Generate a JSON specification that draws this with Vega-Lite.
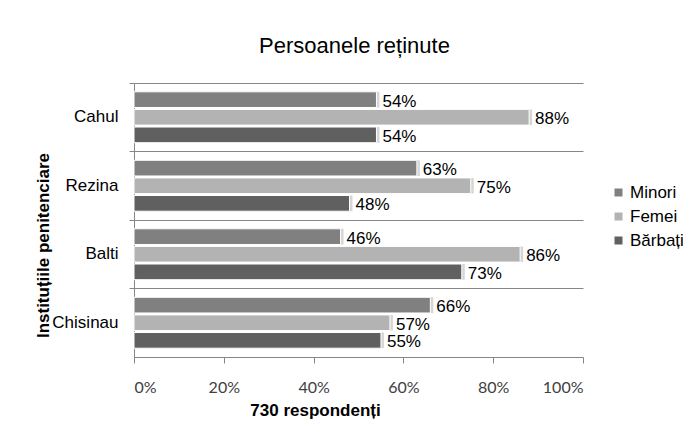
{
  "$schema": "https://vega.github.io/schema/vega-lite/v6.json",
  "autosize": "none",
  "padding": {"left": 134, "top": 83, "right": 100, "bottom": 78},
  "width": 449,
  "height": 274,
  "background": "white",
  "title": {
    "text": "Persoanele reținute",
    "font": "Liberation Sans",
    "fontSize": 22,
    "fontWeight": "normal",
    "color": "#000000",
    "anchor": "middle",
    "dx": -4,
    "offset": 25
  },
  "data": {
    "values": [
      {"institutie": "Cahul", "categorie": "Minori", "pondere": 0.54},
      {"institutie": "Cahul", "categorie": "Femei", "pondere": 0.88},
      {"institutie": "Cahul", "categorie": "Bărbați", "pondere": 0.54},
      {"institutie": "Rezina", "categorie": "Minori", "pondere": 0.63},
      {"institutie": "Rezina", "categorie": "Femei", "pondere": 0.75},
      {"institutie": "Rezina", "categorie": "Bărbați", "pondere": 0.48},
      {"institutie": "Balti", "categorie": "Minori", "pondere": 0.46},
      {"institutie": "Balti", "categorie": "Femei", "pondere": 0.86},
      {"institutie": "Balti", "categorie": "Bărbați", "pondere": 0.73},
      {"institutie": "Chisinau", "categorie": "Minori", "pondere": 0.66},
      {"institutie": "Chisinau", "categorie": "Femei", "pondere": 0.57},
      {"institutie": "Chisinau", "categorie": "Bărbați", "pondere": 0.55}
    ]
  },
  "encoding": {
    "y": {
      "field": "institutie",
      "type": "nominal",
      "sort": ["Cahul", "Rezina", "Balti", "Chisinau"],
      "scale": {"paddingInner": 0, "paddingOuter": 0},
      "axis": {
        "title": "Instituțiile penitenciare",
        "titleFont": "Liberation Sans",
        "titleFontSize": 17,
        "titleFontWeight": "bold",
        "titleColor": "#000000",
        "titleAngle": -90,
        "titleAlign": "center",
        "titleBaseline": "middle",
        "titleX": -91,
        "titleY": 162,
        "labelFont": "Liberation Sans",
        "labelFontSize": 17,
        "labelColor": "#000000",
        "labelPadding": 11,
        "bandPosition": 0,
        "tickSize": 5,
        "tickColor": "#868686",
        "domainColor": "#868686",
        "grid": true,
        "gridColor": "#868686",
        "gridWidth": 1
      }
    },
    "yOffset": {
      "field": "categorie",
      "type": "nominal",
      "sort": ["Minori", "Femei", "Bărbați"],
      "scale": {"paddingInner": 0.11, "paddingOuter": 0.5}
    },
    "x": {
      "field": "pondere",
      "type": "quantitative",
      "scale": {"domain": [0, 1], "nice": false},
      "axis": {
        "title": "730 respondenți",
        "titleFont": "Liberation Sans",
        "titleFontSize": 17,
        "titleFontWeight": "bold",
        "titleColor": "#000000",
        "titleAnchor": "start",
        "titleAlign": "center",
        "titleBaseline": "middle",
        "titleX": 181,
        "titleY": 53,
        "format": ".0%",
        "values": [0, 0.2, 0.4, 0.6, 0.8, 1],
        "labelFont": "Lato",
        "labelFontSize": 16,
        "labelColor": "#404040",
        "labelPadding": 16,
        "tickSize": 6,
        "tickColor": "#868686",
        "domainColor": "#868686",
        "grid": false
      }
    }
  },
  "layer": [
    {
      "mark": {"type": "bar", "color": "#d6d6d6", "xOffset": 3, "yOffset": 3},
      "encoding": {}
    },
    {
      "mark": {"type": "bar", "stroke": "#ffffff", "strokeWidth": 1},
      "encoding": {
        "color": {
          "field": "categorie",
          "type": "nominal",
          "sort": ["Minori", "Femei", "Bărbați"],
          "scale": {
            "domain": ["Minori", "Femei", "Bărbați"],
            "range": ["#808080", "#b3b3b3", "#606060"]
          },
          "legend": {
            "title": null,
            "orient": "none",
            "legendX": 476,
            "legendY": 101,
            "symbolType": "square",
            "symbolSize": 64,
            "symbolStrokeWidth": 0,
            "labelFont": "Liberation Sans",
            "labelFontSize": 17,
            "labelColor": "#000000",
            "labelOffset": 3,
            "rowPadding": 6
          }
        }
      }
    },
    {
      "mark": {
        "type": "text",
        "align": "left",
        "baseline": "middle",
        "dx": 6,
        "dy": 2,
        "font": "Liberation Sans",
        "fontSize": 17,
        "color": "#000000"
      },
      "encoding": {
        "text": {"field": "pondere", "type": "quantitative", "format": ".0%"}
      }
    }
  ],
  "config": {
    "view": {"stroke": null}
  }
}
